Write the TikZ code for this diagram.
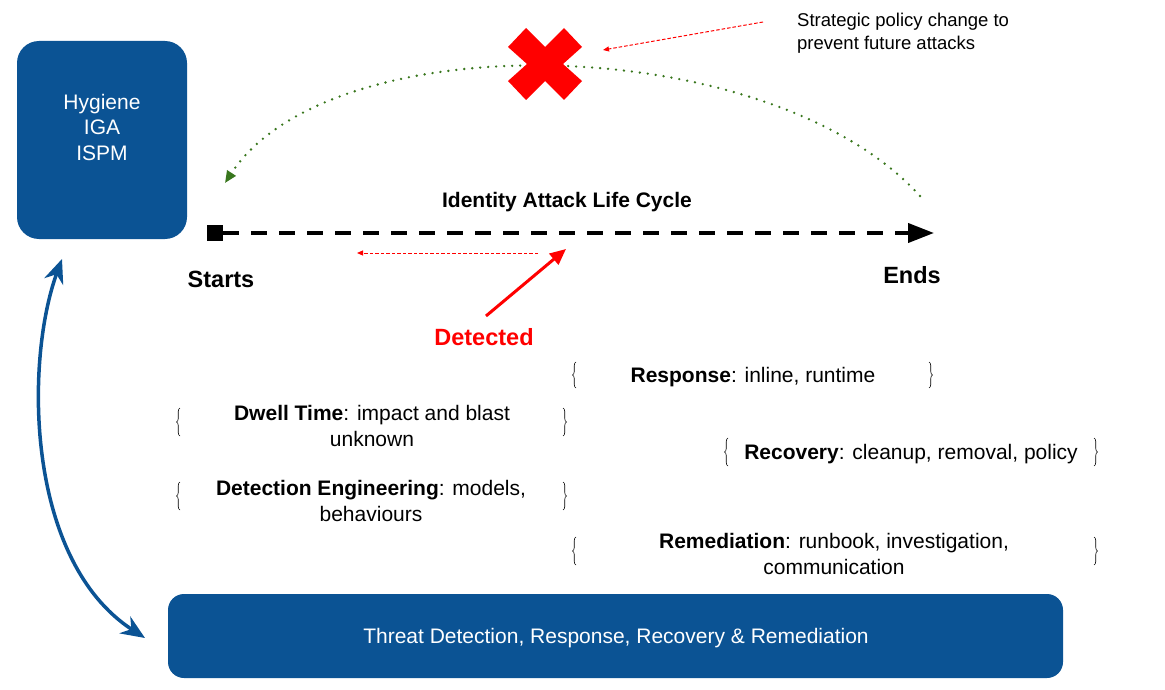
\documentclass[tikz,border=0pt]{standalone}
\usepackage{fontspec}
\setmainfont{Liberation Sans}
\usetikzlibrary{arrows.meta,decorations.pathreplacing,calc}
\definecolor{gblue}{RGB}{11,83,148}
\definecolor{ggreen}{RGB}{56,118,29}
\definecolor{gred}{RGB}{255,0,0}
\begin{document}
\begin{tikzpicture}[x=1pt,y=-1pt,
  bluebox/.style={fill=gblue, draw=none, inner sep=0pt},
  whitetxt/.style={text=white, align=center, inner sep=0pt, font=\fontsize{21}{25.5}\selectfont},
  bodytxt/.style={align=center, inner sep=0pt, font=\fontsize{21}{26}\selectfont},
  bigbold/.style={inner sep=0pt, font=\fontsize{23.5}{28}\selectfont\bfseries},
  reddash/.style={gred, line width=1pt, dash pattern=on 3.5pt off 2pt, -{Triangle[length=6pt,width=5pt]}},
  bracestyle/.style={decorate, decoration={brace, amplitude=3.5pt}, line width=0.6pt},
]
\useasboundingbox (0,0) rectangle (1165,690);

% boxes
\node[bluebox, minimum width=170pt, minimum height=198pt, rounded corners=22pt] (hyg) at (102,140) {};
\node[whitetxt] (hygtxt) at (102,127) {Hygiene\\IGA\\ISPM};
\node[bluebox, minimum width=895pt, minimum height=84pt, rounded corners=16pt] (tdr) at (615.5,636) {};
\node[whitetxt] (tdrtxt) at (616,638) {Threat Detection, Response, Recovery \& Remediation};

% life cycle line
\node[fill=black, minimum size=16pt, inner sep=0pt] (start) at (215,233) {};
\coordinate (end) at (934,233);
\draw[line width=4pt, dash pattern=on 16pt off 12pt, -{Triangle[length=26pt,width=19pt]}] (start.east) -- (end);
\node[inner sep=0pt, font=\fontsize{21}{25}\selectfont\bfseries] (title) at (567,202) {Identity Attack Life Cycle};
\node[bigbold] (starts) at (221,279) {Starts};
\node[bigbold] (ends) at (912,275) {Ends};

% detected
\node[bigbold, text=gred] (det) at (484,337) {Detected};
\coordinate (detfrom) at (486,316);
\coordinate (detto) at (566,249);
\draw[gred, line width=3pt, -{Triangle[length=16pt,width=14pt]}] (detfrom) -- (detto);
\coordinate (da1) at (538,253);
\coordinate (da2) at (357,253);
\draw[reddash] (da1) -- (da2);

% green curve and X
\coordinate (g1) at (920,196);
\coordinate (g2) at (225,183);
\draw[ggreen, line width=2.6pt, dash pattern=on 0pt off 8pt, line cap=round, -{Triangle[length=12pt,width=10pt]}] (g1) .. controls (770,30) and (330,22) .. (g2);
\coordinate (xc) at (545,64);
\fill[gred, shift={(xc)}] (-37,-17) -- (-19,-36) -- (0,-17) -- (19,-36) -- (37,-17) -- (18,0) -- (37,17) -- (19,36) -- (0,17) -- (-19,36) -- (-37,17) -- (-18,0) -- cycle;

% strategic note
\node[anchor=west, align=left, inner sep=0pt, font=\fontsize{18.5}{23}\selectfont] (strat) at (797,33) {Strategic policy change to\\prevent future attacks};
\coordinate (sa1) at (763,22);
\coordinate (sa2) at (603,50);
\draw[reddash] (sa1) -- (sa2);

% blue double arrow
\coordinate (b1) at (62,259);
\coordinate (b2) at (145,638);
\draw[gblue, line width=3.5pt, {Stealth[length=24pt,width=20pt]}-{Stealth[length=24pt,width=20pt]}] (b1) .. controls (25,360) and (25,560) .. (b2);

% braced items
\node[bodytxt] (resp) at (753,377) {\textbf{Response}: inline, runtime};
\draw[bracestyle] (576,388) -- (576,362);
\draw[bracestyle] (929,362) -- (929,388);

\node[bodytxt] (dwell) at (372,426) {\textbf{Dwell Time}: impact and blast\\unknown};
\draw[bracestyle] (180,436) -- (180,408);
\draw[bracestyle] (563,408) -- (563,436);

\node[bodytxt] (recov) at (911,454) {\textbf{Recovery}: cleanup, removal, policy};
\draw[bracestyle] (728,466) -- (728,438);
\draw[bracestyle] (1094,438) -- (1094,466);

\node[bodytxt] (deteng) at (371,501) {\textbf{Detection Engineering}: models,\\behaviours};
\draw[bracestyle] (180,510) -- (180,482);
\draw[bracestyle] (563,482) -- (563,510);

\node[bodytxt] (remed) at (834,554) {\textbf{Remediation}: runbook, investigation,\\communication};
\draw[bracestyle] (576,565) -- (576,537);
\draw[bracestyle] (1094,537) -- (1094,565);
\end{tikzpicture}
\end{document}
